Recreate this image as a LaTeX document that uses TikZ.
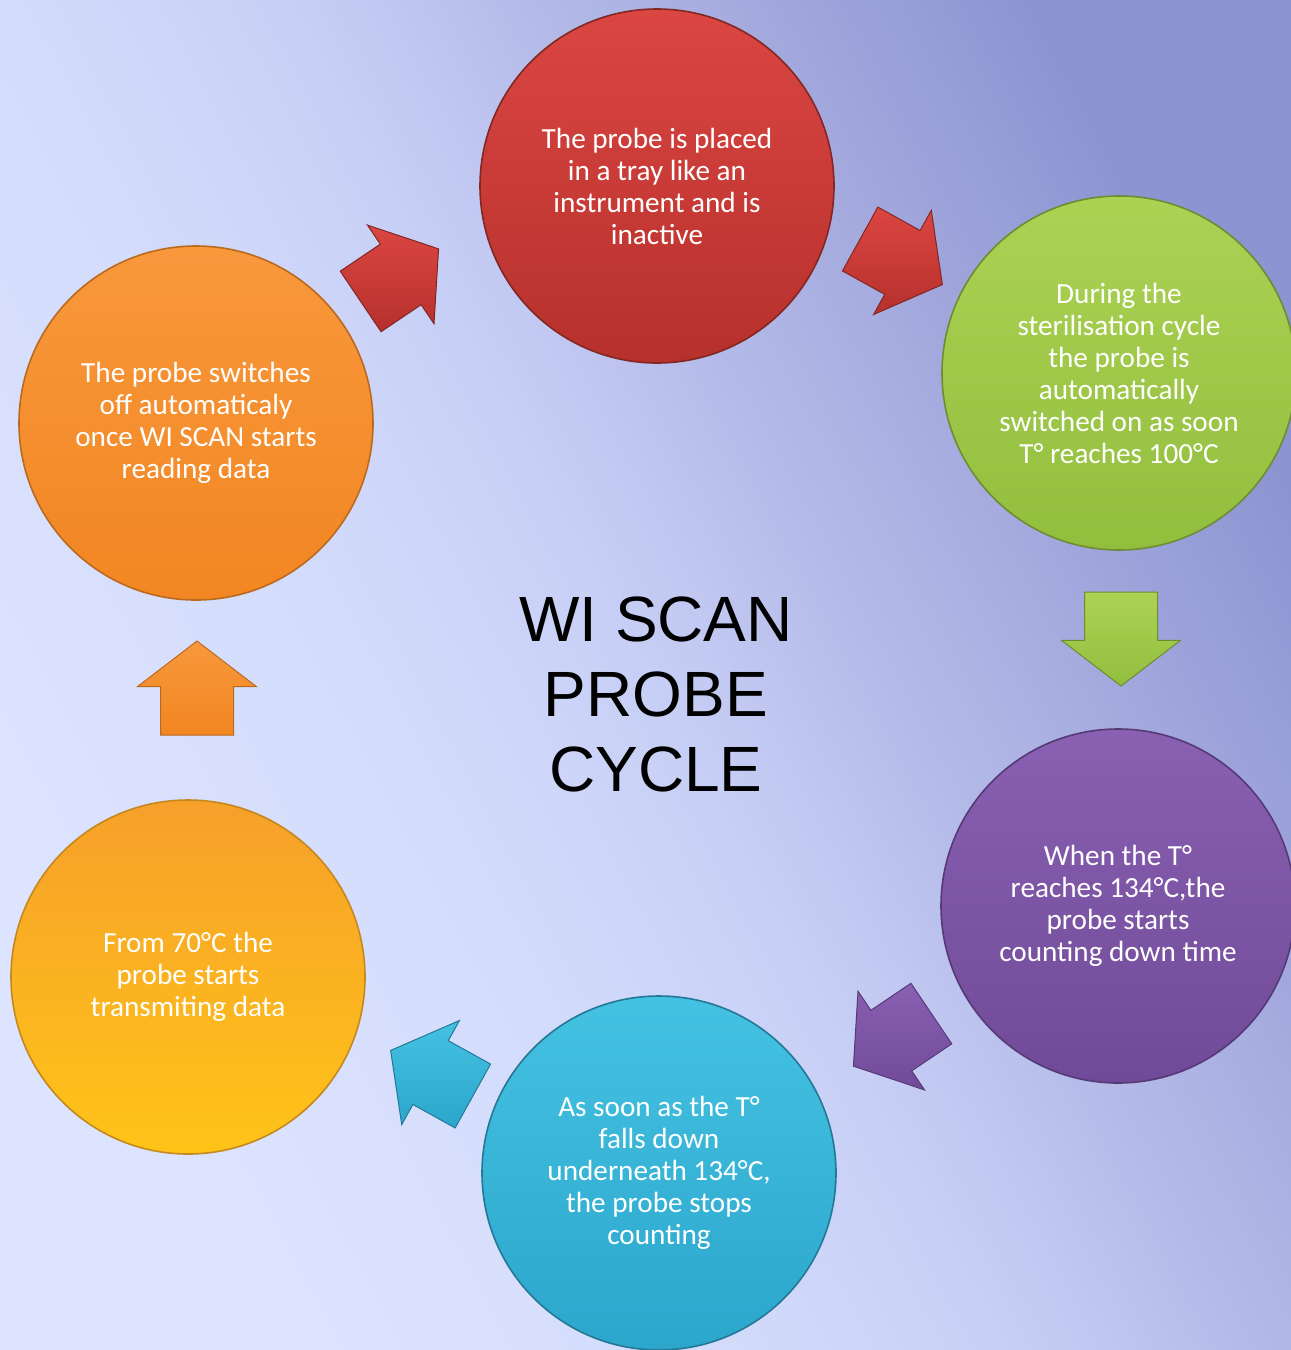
\documentclass[tikz,border=0pt]{standalone}
\usepackage{fontspec}
\setmainfont{Carlito}
\newfontfamily\titlefont{Liberation Sans}
\usetikzlibrary{shapes.arrows}
\definecolor{bgL}{RGB}{220,228,255}
\definecolor{bgK}{RGB}{212,220,252}
\definecolor{bgM}{RGB}{200,207,246}
\definecolor{bgN}{RGB}{176,182,229}
\definecolor{bgR}{RGB}{142,148,209}
\pgfdeclareverticalshading{wiback}{100bp}{color(0bp)=(bgR); color(25bp)=(bgR); color(40bp)=(bgN);
  color(50bp)=(bgM); color(60bp)=(bgK); color(75bp)=(bgL); color(100bp)=(bgL)}
\definecolor{redT}{RGB}{219,70,66}\definecolor{redB}{RGB}{182,48,44}\definecolor{redE}{RGB}{130,40,36}
\definecolor{grnT}{RGB}{172,210,84}\definecolor{grnB}{RGB}{146,190,62}\definecolor{grnE}{RGB}{110,140,50}
\definecolor{purT}{RGB}{138,96,178}\definecolor{purB}{RGB}{112,74,152}\definecolor{purE}{RGB}{85,58,118}
\definecolor{bluT}{RGB}{68,194,226}\definecolor{bluB}{RGB}{44,166,204}\definecolor{bluE}{RGB}{36,120,150}
\definecolor{yelT}{RGB}{246,160,42}\definecolor{yelB}{RGB}{255,196,24}\definecolor{yelE}{RGB}{196,136,30}
\definecolor{orgT}{RGB}{248,152,60}\definecolor{orgB}{RGB}{242,134,34}\definecolor{orgE}{RGB}{186,106,30}

\begin{document}
\begin{tikzpicture}[x=0.5pt,y=-0.5pt,
  stage/.style={circle,minimum size=177pt,inner sep=0pt,align=center,text=white,
    line width=0.8pt,font=\fontsize{14.6}{16}\selectfont},
  turn/.style={single arrow,minimum height=47pt,inner xsep=0pt,inner ysep=18pt,
    single arrow head extend=11.5pt,single arrow tip angle=105,line width=0.5pt}]
\useasboundingbox (0,0) rectangle (1291,1350);
\clip (0,0) rectangle (1291,1350);
\shade[shading=wiback,shading angle=118] (0,0) rectangle (1291,1350);

\node[align=center,font=\titlefont\fontsize{32}{37.5}\selectfont] (title) at (656,694) {WI SCAN\\PROBE\\CYCLE};

\node[stage,top color=redT,bottom color=redB,draw=redE] (placed) at (657,186)
  {The probe is placed\\in a tray like an\\instrument and is\\inactive};
\node[stage,top color=grnT,bottom color=grnB,draw=grnE] (sterile) at (1119,373)
  {During the\\sterilisation cycle\\the probe is\\automatically\\switched on as soon\\T° reaches 100°C};
\node[stage,top color=purT,bottom color=purB,draw=purE] (countdown) at (1118,906)
  {When the T°\\reaches 134°C,the\\probe starts\\counting down time};
\node[stage,top color=bluT,bottom color=bluB,draw=bluE] (stops) at (659,1173)
  {As soon as the T°\\falls down\\underneath 134°C,\\the probe stops\\counting};
\node[stage,top color=yelT,bottom color=yelB,draw=yelE] (transmit) at (188,977)
  {From 70°C the\\probe starts\\transmiting data};
\node[stage,top color=orgT,bottom color=orgB,draw=orgE] (switchoff) at (196,423)
  {The probe switches\\off automaticaly\\once WI SCAN starts\\reading data};

\foreach \n/\x/\y/\ang/\col in {a1/388/283/34/red,a2/889/255/-29/red,a3/1121/625/-90/grn,
  a4/904/1032/-146/pur,a5/444/1080/151/blu,a6/197/702/90/org}
  \node[turn,rotate=\ang,top color=\col T,bottom color=\col B,draw=\col E] (\n) at (\x,\y) {};
\end{tikzpicture}
\end{document}
